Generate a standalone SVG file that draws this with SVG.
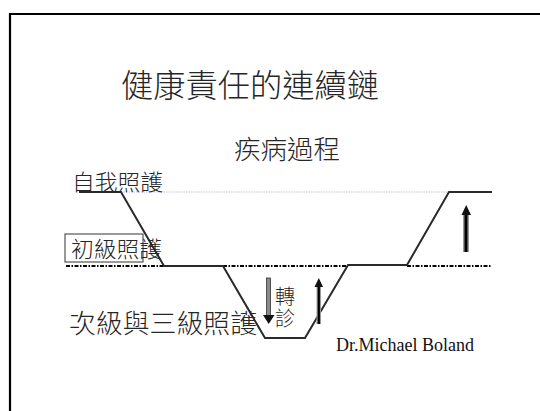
<svg xmlns="http://www.w3.org/2000/svg" width="540" height="411" viewBox="0 0 540 411">
<style>
.cjk{font-family:"Noto Sans CJK TC","Noto Sans CJK SC",sans-serif;fill:#262626;font-weight:300}
.path{fill:none;stroke:#2a2a2a;stroke-width:2;stroke-linejoin:miter}
.dashdot{fill:none;stroke:#000;stroke-width:1.8;stroke-dasharray:4 1.5 1.5 1.5}
.dotted{fill:none;stroke:#d6d6f0;stroke-width:1.5;stroke-dasharray:1.5 1}
</style>
<rect width="540" height="411" fill="#fff"/>
<path d="M10,411 V14 H540" fill="none" stroke="#000" stroke-width="2.2"/>

<g id="title"><text class="cjk" x="121" y="97" font-size="32" textLength="258" lengthAdjust="spacingAndGlyphs">健康責任的連續鏈</text></g>
<g id="subtitle"><text class="cjk" x="234" y="159" font-size="26" textLength="106" lengthAdjust="spacingAndGlyphs">疾病過程</text></g>

<g id="guides">
<path class="dotted" d="M121,192 H449"/>
<path class="dashdot" d="M66,266 H164"/>
<path class="dashdot" d="M223,266 H348"/>
<path class="dashdot" d="M407,266 H491"/>
</g>

<g id="self-care"><text class="cjk" x="72" y="190" font-size="22" textLength="91" lengthAdjust="spacingAndGlyphs">自我照護</text></g>
<g id="primary-care">
<rect x="65" y="234" width="78" height="28" fill="none" stroke="#333" stroke-width="1"/>
<text class="cjk" x="71" y="257" font-size="22" textLength="91" lengthAdjust="spacingAndGlyphs">初級照護</text>
</g>
<g id="secondary-care"><text class="cjk" x="69" y="333" font-size="26" textLength="188" lengthAdjust="spacingAndGlyphs">次級與三級照護</text></g>
<g id="referral">
<text class="cjk" x="285" y="286" font-size="20" writing-mode="vertical-rl" letter-spacing="2">轉診</text>
</g>
<g id="author"><text x="336" y="351" font-family="Liberation Serif,serif" font-size="17.8" fill="#111" textLength="138" lengthAdjust="spacingAndGlyphs">Dr.Michael Boland</text></g>

<g id="connectors">
<path class="path" d="M79,192 H121 L164,266 H223 L265,338 H305 L348,265 H407 L449,192 H492"/>
<g id="arrow-down">
<rect x="266.5" y="278" width="4" height="38" fill="#8a8a8a" stroke="#333" stroke-width="0.8"/>
<polygon points="263,315 274.5,315 268.7,324" fill="#111"/>
</g>
<g id="arrow-up-mid">
<rect x="316.5" y="286" width="4.5" height="38" fill="#999"/>
<rect x="317.7" y="286" width="2.2" height="38" fill="#000"/>
<polygon points="314.5,287 323,287 318.8,278" fill="#111"/>
</g>
<g id="arrow-up-right">
<rect x="463" y="213" width="6" height="39" fill="#999"/>
<rect x="464.5" y="213" width="3" height="39" fill="#000"/>
<polygon points="461.5,215 471,215 466.2,205" fill="#111"/>
</g>
</g>
</svg>
